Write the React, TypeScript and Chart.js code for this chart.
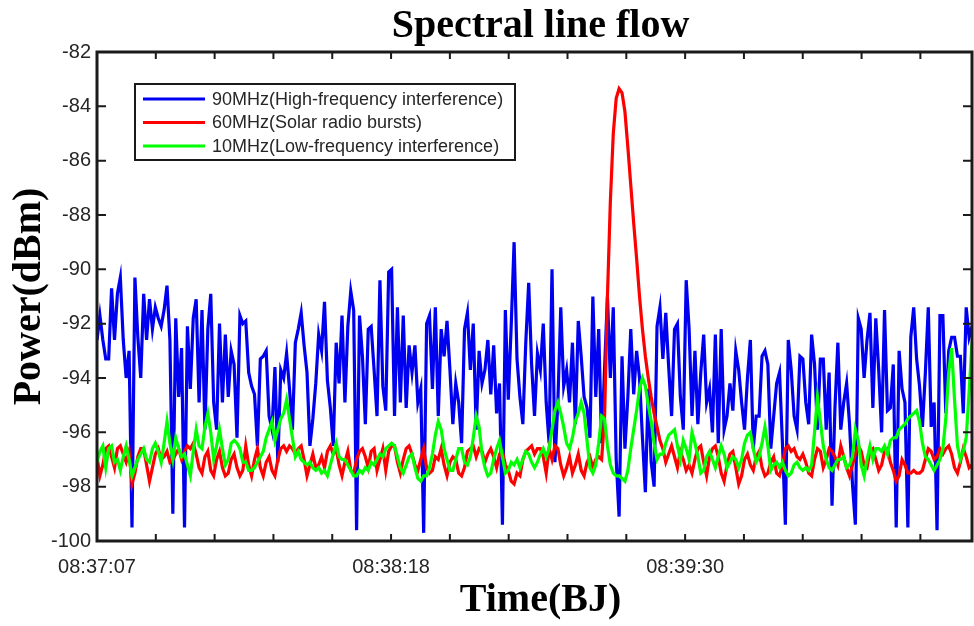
import React, { useEffect, useRef } from 'react';
import { Chart, registerables } from 'chart.js';

Chart.register(...registerables);

// ---------- data ----------
const TITLE = 'Spectral line flow';
const X_TITLE = 'Time(BJ)';
const Y_TITLE = 'Power(dBm)';

const SAMPLE_STEP_S = 0.7097; // seconds between samples
const X_MAX_S = 212.9;
const MINOR_TICK_STEP_S = 14.31;
const MINOR_TICK_COUNT = 15;
const X_TICK_LABELS = ['08:37:07', '08:38:18', '08:39:30'];
const X_TICK_SECONDS = [0, 71.55, 143.1];
const Y_MIN = -100;
const Y_MAX = -82;
const Y_STEP = 2;

const SERIES_LABELS = [
  '90MHz(High-frequency interference)',
  '60MHz(Solar radio bursts)',
  '10MHz(Low-frequency interference)',
];

const BLUE_90MHZ = [
  -92.6, -91.7, -92.6, -93.3, -93.3, -90.7, -92.6, -90.9, -90.3, -92.6,
  -94.0, -93.0, -99.5, -90.3, -92.5, -94.0, -90.9, -92.6, -91.1, -92.2,
  -91.4, -91.8, -92.1, -91.5, -90.6, -92.6, -99.0, -91.8, -94.7, -92.9,
  -99.5, -92.1, -94.4, -91.8, -91.1, -94.9, -91.5, -95.9, -92.2, -90.9,
  -94.9, -95.9, -92.0, -94.9, -92.4, -94.7, -93.0, -93.5, -96.2, -91.7,
  -92.0,
  -91.9, -93.8, -94.3, -94.6, -96.5, -93.3, -93.2, -93.0, -95.4, -95.9,
  -93.6, -97.1, -93.7, -94.0, -93.1, -94.4, -95.9, -92.7, -92.2, -91.6,
  -92.8, -93.8, -96.5, -95.5, -94.2, -92.4, -93.0, -91.2, -94.1, -95.1,
  -96.5, -92.7, -94.2, -91.7, -94.9, -92.1, -90.8, -91.5, -99.6, -91.7,
  -93.2, -95.7, -92.2, -92.1, -93.7, -95.4, -90.4, -94.3, -95.2, -90.1,
  -90.0,
  -95.4, -91.4, -94.9, -91.7, -95.1, -92.8, -93.8, -92.8, -94.9, -94.4,
  -99.7, -92.0, -91.7, -94.4, -91.4, -95.4, -92.2, -93.2, -91.9, -93.7,
  -95.7, -94.2, -94.9, -96.4, -92.2, -91.6, -93.7, -92.0, -95.9, -93.0,
  -94.2, -93.7, -92.6, -94.6, -92.8, -95.3, -94.2, -99.4, -91.5, -94.8,
  -92.1, -89.0, -93.3, -94.7, -95.7, -92.7, -90.5, -93.5, -95.4, -93.1,
  -93.7,
  -92.0, -94.9, -96.4, -90.0, -97.1, -94.9, -91.4, -94.3, -93.7, -94.9,
  -92.7, -95.7, -91.9, -93.2, -94.7, -95.1, -96.2, -91.0, -94.7, -92.2,
  -96.4, -93.7, -91.0, -94.0, -91.4, -97.0, -99.1, -93.2, -96.6, -94.7,
  -92.2, -94.6, -93.0, -94.0, -96.2, -98.2, -94.4, -97.1, -98.0, -92.1,
  -91.4, -93.3, -91.6, -93.6, -95.4, -92.2, -92.0, -94.7, -95.9, -90.4,
  -92.2,
  -95.4, -93.0, -95.7, -93.8, -92.4, -94.9, -94.4, -96.0, -92.4, -96.4,
  -92.2, -95.9, -95.4, -94.2, -95.2, -93.0, -93.7, -94.9, -95.9, -94.0,
  -92.6, -96.6, -95.4, -95.4, -93.2, -93.0, -93.5, -96.6, -95.4, -94.2,
  -93.8, -96.4, -99.4, -92.6, -93.7, -95.4, -95.9, -93.2, -93.3, -94.9,
  -95.7, -92.4, -93.5, -95.9, -93.3, -93.3, -95.9, -93.8, -98.7, -95.1,
  -92.7,
  -95.9, -94.9, -94.2, -95.7, -97.9, -99.4, -91.8, -92.2, -94.0, -92.6,
  -91.6, -95.1, -91.8, -93.7, -96.0, -91.5, -95.2, -95.1, -93.5, -99.5,
  -93.0, -94.4, -94.9, -99.5, -92.5, -91.4, -93.3, -94.3, -95.8, -93.8,
  -91.4, -95.8, -94.9, -99.6, -91.7, -91.7, -95.3, -93.0, -92.5, -92.5,
  -93.2, -93.2, -95.3, -91.4, -92.5, -92.1,
];

const RED_60MHZ = [
  -96.9, -97.6, -97.2, -96.6, -96.5, -96.9, -97.3, -96.6, -96.5, -96.8,
  -97.1, -96.7, -97.9, -97.5, -96.9, -96.6, -96.6, -97.2, -97.8, -97.3,
  -96.8, -96.6, -97.0, -96.9, -96.7, -97.1, -97.0, -96.8, -96.6, -97.0,
  -96.7, -96.5, -96.6, -96.4, -96.8, -97.3, -97.5, -96.9, -96.7, -97.4,
  -97.6, -97.0, -96.7, -97.3, -97.6, -97.5, -97.0, -96.8, -97.3, -97.6,
  -97.4,
  -96.5, -97.2, -97.6, -97.0, -96.6, -97.3, -97.6, -97.1, -96.9, -97.4,
  -97.6, -97.0, -96.6, -96.5, -96.7, -96.5, -96.6, -96.8, -96.6, -96.5,
  -97.0, -97.6, -97.2, -96.8, -97.3, -97.2, -96.9, -97.3, -96.7, -96.5,
  -96.8, -96.6, -97.2, -97.6, -97.1, -96.7, -97.4, -97.5, -97.0, -96.7,
  -96.6, -96.9, -97.3, -96.7, -96.6, -97.4, -97.0, -96.6, -97.4, -96.7,
  -96.5,
  -96.5, -97.1, -97.5, -97.0, -96.6, -96.5, -96.8, -97.2, -97.4, -97.0,
  -96.6, -97.3, -97.5, -97.4, -96.9, -97.0, -96.6, -97.2, -97.6, -97.1,
  -96.9, -97.0, -97.5, -97.6, -97.3, -96.7, -96.6, -96.5, -96.9, -96.6,
  -96.7, -97.1, -96.8, -96.6, -96.9, -97.3, -96.8, -96.7, -97.2, -97.4,
  -97.8, -97.9, -97.5, -97.6, -97.0, -96.7, -96.6, -96.5, -96.8, -96.6,
  -96.6,
  -96.9, -97.5, -96.6, -97.0, -96.5, -96.6, -97.2, -97.6, -97.3, -96.9,
  -97.5, -97.2, -96.8, -97.4, -97.6, -97.1, -96.9, -97.3, -97.0, -96.9,
  -97.0, -95.5, -91.0, -87.5, -85.0, -83.7, -83.35, -83.5, -84.2, -85.5,
  -86.9, -88.3, -89.6, -91.0, -92.2, -93.2, -94.0, -94.7, -95.3, -95.8,
  -96.3, -96.6,
  -97.1, -96.8, -96.5, -96.9, -97.3, -96.7, -97.0, -97.4, -97.2,
  -97.5, -97.0, -96.6, -96.5, -97.1, -97.6, -96.9, -96.6, -96.5, -96.9,
  -97.5, -97.8, -97.2, -96.8, -96.7, -97.3, -97.9, -97.6, -97.0, -96.8,
  -97.2, -97.4, -96.9, -96.7, -97.3, -97.6, -97.5, -97.1, -96.9, -97.5,
  -97.6, -97.2, -96.6, -96.5, -96.7, -96.6, -96.9, -97.0, -96.8, -97.1,
  -97.5, -97.6, -97.0, -96.6, -96.7, -97.3, -97.0, -96.6, -96.7, -96.9,
  -97.2,
  -96.5, -96.9, -97.3, -97.6, -97.2, -96.8, -96.5, -96.7, -97.2, -97.3,
  -96.7, -96.6, -97.0, -97.4, -97.2, -96.7, -96.6, -97.1, -97.4, -97.8,
  -97.6, -97.0, -97.2, -97.5, -97.5, -97.4, -97.5, -97.5, -97.4, -97.0,
  -96.6, -96.7, -97.0, -96.9, -96.6, -96.8, -96.6, -96.5, -96.8, -97.3,
  -97.5, -97.1, -96.6, -96.9, -97.3, -97.2,
];

const GREEN_10MHZ = [
  -97.1, -96.7, -96.5, -97.3, -96.6, -96.5, -97.1, -97.0, -97.4, -96.9,
  -96.5, -97.0, -97.6, -97.3, -97.0, -96.8, -96.6, -97.0, -97.1, -96.6,
  -96.4, -96.7, -97.1, -96.4, -95.6, -96.4, -97.0, -96.2, -96.6, -96.9,
  -96.8, -97.2, -97.6, -96.7, -95.9, -96.5, -96.6, -95.8, -95.3, -96.0,
  -97.0, -96.5, -95.9, -96.6, -97.2, -97.0, -96.4, -96.3, -96.4, -96.6,
  -97.1,
  -97.1, -97.4, -97.4, -97.3, -97.1, -96.9, -96.7, -96.2, -95.9, -95.6,
  -96.3, -95.9, -95.5, -95.3, -94.8, -95.5, -96.2, -96.9, -96.7, -97.0,
  -97.1, -97.2, -97.1, -97.3, -97.4, -97.3, -97.5, -97.4, -97.6, -97.2,
  -96.8, -96.4, -96.9, -97.0, -97.0, -97.2, -97.4, -97.6, -97.6, -97.4,
  -97.5, -97.3, -97.4, -97.1, -97.2, -97.0, -96.8, -96.9, -96.6, -96.5,
  -96.4,
  -96.5, -96.9, -97.3, -97.5, -97.2, -96.9, -96.8, -97.3, -97.7, -97.8,
  -97.6, -97.6, -97.3, -96.8, -96.1, -95.6, -95.9, -96.6, -97.0, -97.4,
  -97.4, -97.0, -96.6, -96.6, -97.1, -97.2, -96.9, -96.2, -95.4, -95.8,
  -96.8, -97.3, -97.6, -97.5, -97.0, -96.6, -96.3, -96.9, -97.5, -97.4,
  -97.1, -97.2, -97.0, -97.3, -97.0, -96.7, -96.8, -97.1, -97.3, -97.1,
  -96.8,
  -96.6, -96.9, -96.6, -95.9, -95.2, -94.9, -95.3, -95.8, -96.4, -96.6,
  -96.2, -95.6, -95.3, -94.9, -95.3, -96.3, -97.3, -97.5, -97.2, -96.4,
  -95.4, -95.5, -96.5, -97.2, -97.5, -97.6, -97.6, -97.7, -97.8, -97.4,
  -96.6, -95.9, -95.2, -94.4, -94.0, -94.3, -95.0, -95.6, -96.4, -97.0,
  -96.8, -96.8, -96.4, -96.1, -96.0, -95.9, -96.5, -97.0, -96.3, -96.6,
  -97.0,
  -96.0, -96.4, -96.9, -97.5, -97.4, -96.9, -96.7, -97.0, -97.3, -96.9,
  -96.5, -96.8, -97.3, -97.1, -96.9, -97.0, -97.3, -97.0, -96.4, -96.1,
  -96.0, -96.6, -97.1, -96.9, -96.4, -95.8, -96.5, -97.4, -97.2, -97.1,
  -97.3, -97.1, -97.4, -97.6, -97.5, -97.2, -97.1, -97.3, -97.4, -97.3,
  -97.4, -97.2, -96.0, -94.7, -95.6, -96.5, -97.0, -97.3, -97.4, -97.2,
  -97.0,
  -97.0, -96.9, -97.3, -97.2, -96.9, -95.9, -96.3, -97.2, -97.6, -97.0,
  -96.5, -97.0, -96.6, -96.6, -96.7, -96.5, -96.8, -96.3, -96.2, -96.2,
  -95.9, -95.8, -95.7, -95.5, -95.4, -95.3, -95.2, -95.6, -96.4, -96.9,
  -97.0, -97.2, -97.4, -97.2, -97.0, -96.6, -95.5, -93.8, -92.9, -94.8,
  -96.5, -97.0, -96.7, -96.2, -94.5, -92.7,
];

const SERIES_COLORS = ['rgb(0,0,240)', 'rgb(255,0,0)', 'rgb(0,255,0)'];

// ---------- styles ----------
const SERIF = '"Liberation Serif", "Times New Roman", serif';
const SANS = '"Liberation Sans", Arial, sans-serif';
const AXIS_COLOR = '#1a1a1a';
const TEXT_COLOR = '#262626';

const toPoints = (values: number[]) =>
  values.map((v, i) => ({ x: i * SAMPLE_STEP_S, y: v }));

const decorPlugin = {
  id: 'matlabDecor',
  afterDatasetsDraw(chart: any) {
    const { ctx, chartArea: a, scales } = chart;
    const xs = scales.x;
    const ys = scales.y;
    ctx.save();

    // frame
    ctx.strokeStyle = AXIS_COLOR;
    ctx.lineWidth = 3;
    ctx.strokeRect(a.left, a.top, a.right - a.left, a.bottom - a.top);

    // inward ticks
    ctx.lineWidth = 2;
    ctx.beginPath();
    for (let v = Y_MIN; v <= Y_MAX; v += Y_STEP) {
      const y = ys.getPixelForValue(v);
      ctx.moveTo(a.left, y);
      ctx.lineTo(a.left + 9, y);
      ctx.moveTo(a.right, y);
      ctx.lineTo(a.right - 9, y);
    }
    for (let k = 0; k < MINOR_TICK_COUNT; k++) {
      const x = xs.getPixelForValue(k * MINOR_TICK_STEP_S);
      ctx.moveTo(x, a.bottom);
      ctx.lineTo(x, a.bottom - 7);
      ctx.moveTo(x, a.top);
      ctx.lineTo(x, a.top + 7);
    }
    ctx.stroke();

    // legend box
    const lx = a.left + 38;
    const ly = a.top + 32;
    const lw = 380;
    const lh = 76;
    ctx.fillStyle = '#ffffff';
    ctx.fillRect(lx, ly, lw, lh);
    ctx.lineWidth = 2;
    ctx.strokeStyle = AXIS_COLOR;
    ctx.strokeRect(lx, ly, lw, lh);
    ctx.font = `18px ${SANS}`;
    ctx.textBaseline = 'middle';
    ctx.textAlign = 'left';
    chart.data.datasets.forEach((ds: any, i: number) => {
      const y = ly + 15 + i * 23.5;
      ctx.strokeStyle = ds.borderColor;
      ctx.lineWidth = 3;
      ctx.beginPath();
      ctx.moveTo(lx + 8, y);
      ctx.lineTo(lx + 70, y);
      ctx.stroke();
      ctx.fillStyle = TEXT_COLOR;
      ctx.fillText(ds.label, lx + 77, y + 1);
    });

    // titles
    const cx = (a.left + a.right) / 2 + 6;
    ctx.fillStyle = '#000000';
    ctx.textAlign = 'center';
    ctx.textBaseline = 'alphabetic';
    ctx.font = `bold 40px ${SERIF}`;
    ctx.fillText(TITLE, cx, 37);
    ctx.textBaseline = 'middle';
    ctx.fillText(X_TITLE, cx, 601);
    ctx.save();
    ctx.translate(30, (a.top + a.bottom) / 2);
    ctx.rotate(-Math.PI / 2);
    ctx.fillText(Y_TITLE, 0, 0);
    ctx.restore();

    ctx.restore();
  },
};

export default function App() {
  const canvasRef = useRef<HTMLCanvasElement | null>(null);

  useEffect(() => {
    const canvas = canvasRef.current;
    if (!canvas) return;
    const seriesValues = [BLUE_90MHZ, RED_60MHZ, GREEN_10MHZ];
    const chart = new Chart(canvas, {
      type: 'line',
      data: {
        datasets: seriesValues.map((vals, i) => ({
          label: SERIES_LABELS[i],
          data: toPoints(vals),
          borderColor: SERIES_COLORS[i],
          backgroundColor: SERIES_COLORS[i],
          borderWidth: 3.2,
          pointRadius: 0,
          tension: 0,
          fill: false,
          order: 2 - i,
        })),
      },
      options: {
        responsive: false,
        animation: false,
        devicePixelRatio: 1,
        layout: { padding: { top: 52, right: 2, left: 0, bottom: 0 } },
        plugins: {
          legend: { display: false },
          title: { display: false },
          tooltip: { enabled: false },
        },
        scales: {
          x: {
            type: 'linear',
            min: 0,
            max: X_MAX_S,
            grid: { display: false, drawTicks: false },
            border: { display: false },
            afterBuildTicks: (scale: any) => {
              scale.ticks = X_TICK_SECONDS.map((v) => ({ value: v }));
            },
            ticks: {
              autoSkip: false,
              maxRotation: 0,
              padding: 14,
              color: TEXT_COLOR,
              font: { family: SANS, size: 20 },
              callback: (_v: any, idx: number) => X_TICK_LABELS[idx],
            },
            afterFit: (scale: any) => {
              scale.height = 85;
            },
          },
          y: {
            min: Y_MIN,
            max: Y_MAX,
            grid: { display: false, drawTicks: false },
            border: { display: false },
            ticks: {
              stepSize: Y_STEP,
              padding: 6,
              color: TEXT_COLOR,
              font: { family: SANS, size: 20 },
            },
            afterFit: (scale: any) => {
              scale.width = 97;
            },
          },
        },
      } as any,
      plugins: [decorPlugin],
    });
    return () => chart.destroy();
  }, []);

  return (
    <div style={{ position: 'absolute', left: 0, top: 0, width: 974, height: 626, background: '#fff' }}>
      <canvas ref={canvasRef} width={974} height={626} style={{ display: 'block' }} />
    </div>
  );
}
